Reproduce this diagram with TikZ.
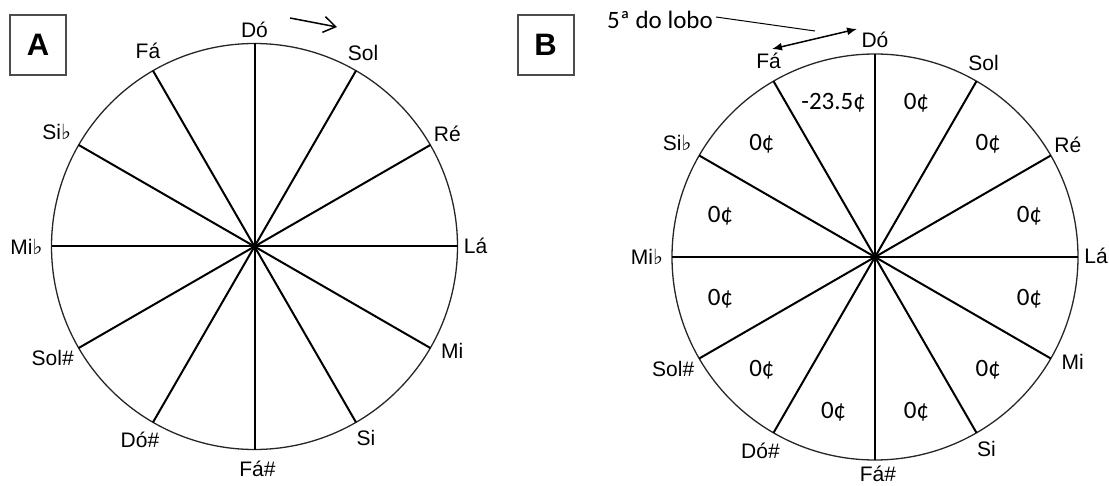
\documentclass[tikz,border=0pt]{standalone}
\usepackage{fontspec}
\setmainfont{Liberation Sans}
\newfontfamily\calfont{Carlito}
\newfontfamily\symfont{DejaVu Sans}
\usetikzlibrary{arrows.meta}
\newcommand{\flatsign}{{\symfont\fontsize{21}{21}\selectfont ♭}}
\tikzset{
  rim/.style={line width=1.3pt, draw=black!85},
  spoke/.style={line width=2pt},
  note/.style={font=\fontsize{21}{23}\selectfont, inner sep=0pt},
  cents/.style={font=\calfont\fontsize{25}{27}\selectfont, inner sep=0pt},
  hub/.style={circle, fill, inner sep=0pt, minimum size=7pt},
  tagbox/.style={draw=black!70, line width=2pt, minimum width=56pt, minimum height=60pt, inner sep=0pt, font=\bfseries\fontsize{31}{31}\selectfont},
  thinline/.style={line width=1pt},
}
\begin{document}
\begin{tikzpicture}[x=1pt,y=-1pt]
\useasboundingbox (0,0) rectangle (1109,486);
% wheel A
\node[hub] (A-c) at (254.5,246.5) {};
\draw[rim] (A-c.center) circle[radius=203pt];
\foreach \i/\ang/\txt/\dx/\dy in {1/90/Dó/0/-14, 2/60/Sol/7/-18, 3/30/Ré/17/-11, 4/0/Lá/18/-1, 5/-30/Mi/22/3, 6/-60/Si/10/16, 7/-90/Fá\#/3/19, 8/-120/Dó\#/-13/18, 9/-150/Sol\#/-26/10, 10/180/Mi\flatsign/-25/0, 11/150/Si\flatsign/-22/-13, 12/120/Fá/-5/-20}{
  \coordinate (A-e\i) at ({254.5+203*cos(\ang)},{246.5-203*sin(\ang)});
  \draw[spoke] (A-c.center) -- (A-e\i);
  \node[note] (A-l\i) at ([shift={(\dx,\dy)}]A-e\i) {\txt};
}
\node[tagbox] (tagA) at (38,45) {A};
\coordinate (dirS) at (290,18);
\coordinate (dirE) at (337,27);
\draw[line width=1.5pt, -{Straight Barb[length=12pt,width=16pt]}] (dirS) -- (dirE);
% wheel B
\node[hub] (B-c) at (875,257) {};
\draw[rim] (B-c.center) circle[radius=203pt];
\foreach \i/\ang/\txt/\dx/\dy in {1/90/Dó/0/-14, 2/60/Sol/7/-18, 3/30/Ré/17/-11, 4/0/Lá/18/-1, 5/-30/Mi/22/3, 6/-60/Si/10/16, 7/-90/Fá\#/3/14, 8/-120/Dó\#/-13/18, 9/-150/Sol\#/-26/10, 10/180/Mi\flatsign/-25/0, 11/150/Si\flatsign/-22/-13, 12/120/Fá/-5/-20}{
  \coordinate (B-e\i) at ({875+203*cos(\ang)},{257-203*sin(\ang)});
  \draw[spoke] (B-c.center) -- (B-e\i);
  \node[note] (B-l\i) at ([shift={(\dx,\dy)}]B-e\i) {\txt};
}
\foreach \i/\ang/\txt in {1/105/-23.5¢, 2/75/0¢, 3/45/0¢, 4/15/0¢, 5/-15/0¢, 6/-45/0¢, 7/-75/0¢, 8/-105/0¢, 9/-135/0¢, 10/-165/0¢, 11/165/0¢, 12/135/0¢}{
  \node[cents] (B-s\i) at ({875+160*cos(\ang)},{257-160*sin(\ang)}) {\txt};
}
\node[tagbox] (tagB) at (545.5,45) {B};
\node[cents, anchor=west] (lobo) at (607,20) {5ª do lobo};
\coordinate (loboend) at (815,31);
\draw[thinline] ([shift={(3,-3)}]lobo.east) -- (loboend);
\coordinate (wolfL) at (772,49);
\coordinate (wolfR) at (857,29);
\draw[line width=1.5pt, {Latex[length=10pt,width=8pt]}-{Latex[length=10pt,width=8pt]}] (wolfL) -- (wolfR);
\end{tikzpicture}
\end{document}
